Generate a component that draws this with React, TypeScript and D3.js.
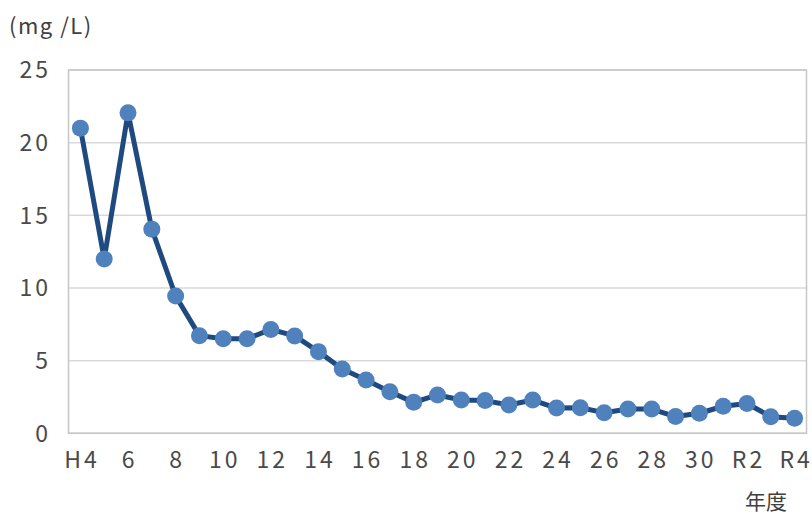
import React from "react";
import * as d3 from "d3";

const categories = ["H4","5","6","7","8","9","10","11","12","13","14","15","16","17","18","19","20","21","22","23","24","25","26","27","28","29","30","R1","R2","R3","R4"];
const values = [21.0,12.0,22.05,14.05,9.45,6.72,6.5,6.5,7.15,6.7,5.62,4.43,3.67,2.86,2.13,2.64,2.29,2.25,1.95,2.29,1.74,1.76,1.42,1.67,1.67,1.15,1.38,1.86,2.05,1.14,1.03];
const xTickLabels = ["H4","6","8","10","12","14","16","18","20","22","24","26","28","30","R2","R4"];
const yTicks = [0,5,10,15,20,25];
const yUnit = "(mg /L)";
const xTitle = "年度";

const W = 812, H = 515;
const left = 68.5, right = 806.5, top = 70, bottom = 433.3;
const font = "'Noto Sans CJK JP', 'Noto Sans', sans-serif";

export default function App() {
  const x = d3.scaleBand<string>().domain(categories).range([left, right]);
  const y = d3.scaleLinear().domain([0, 25]).range([bottom, top]);
  const cx = (c: string) => (x(c) as number) + x.bandwidth() / 2;
  const line = d3.line<number>().x((_, i) => cx(categories[i])).y(v => y(v));
  return (
    <svg width={W} height={H} style={{ position: "absolute", left: 0, top: 0, background: "#fff" }} fontFamily={font}>
      {yTicks.map(t => (
        <line key={"g" + t} x1={left} x2={right} y1={y(t)} y2={y(t)} stroke="#d9d9d9" strokeWidth={1.5} />
      ))}
      <rect x={left} y={top} width={right - left} height={bottom - top} fill="none" stroke="#c6c6c6" strokeWidth={1.5} />
      {yTicks.map(t => (
        <text key={"t" + t} x={51} y={y(t)} dy="0.36em" textAnchor="end" fontSize={23} fill="#4a4a4a" letterSpacing={3}>{t}</text>
      ))}
      {xTickLabels.map(l => (
        <text key={"x" + l} x={cx(l) + 1.5} y={468} textAnchor="middle" fontSize={23} fill="#4a4a4a" letterSpacing={3}>{l}</text>
      ))}
      <text x={9} y={34} fontSize={22} fill="#404040" letterSpacing={1.5}>{yUnit}</text>
      <text x={766} y={509} textAnchor="middle" fontSize={21} fill="#404040">{xTitle}</text>
      <path d={line(values) || ""} fill="none" stroke="#1f4a7f" strokeWidth={5} strokeLinejoin="round" />
      {values.map((v, i) => (
        <circle key={"c" + i} cx={cx(categories[i])} cy={y(v)} r={8.5} fill="#4f81bd" />
      ))}
    </svg>
  );
}
